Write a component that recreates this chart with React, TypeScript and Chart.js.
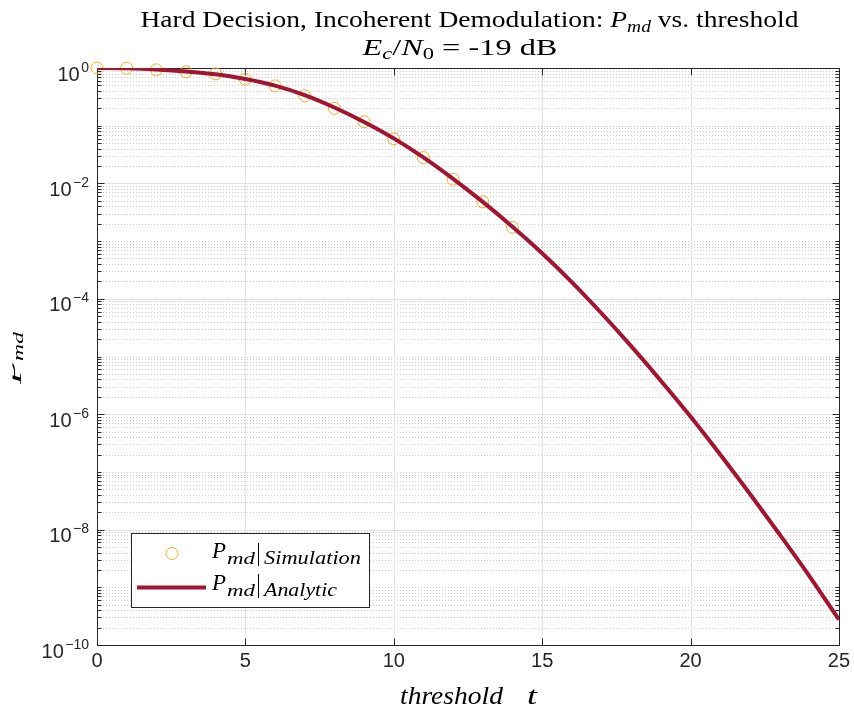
import React, { useEffect, useRef } from "react";
import { Chart, registerables } from "chart.js";

Chart.register(...registerables);

// ---------- data ----------
const thresholds = [0, 1, 2, 3, 4, 5, 6, 7, 8, 9, 10, 11, 12, 13, 14, 15, 16, 17, 18, 19, 20, 21, 22, 23, 24, 25];
const analyticPmd = [
  1.0, 0.986, 0.942, 0.871, 0.776, 0.646, 0.495, 0.339, 0.2065, 0.116, 0.0603, 0.0282, 0.012, 0.00479, 0.00178,
  6.17e-4, 1.95e-4, 5.62e-5, 1.51e-5, 3.8e-6, 9.1e-7, 2.0e-7, 4.17e-8, 8.3e-9, 1.58e-9, 2.75e-10,
];
const simThresholds = [0, 1, 2, 3, 4, 5, 6, 7, 8, 9, 10, 11, 12, 13, 14];
const simulatedPmd = [1.0, 0.99, 0.93, 0.86, 0.79, 0.64, 0.49, 0.33, 0.2, 0.117, 0.059, 0.028, 0.0118, 0.0048, 0.00174];
const xTickValues = [0, 5, 10, 15, 20, 25];
const yLabelExponents = [0, -2, -4, -6, -8, -10];
const yMinExp = -10;
const yMaxExp = 0;

const titleText1 = "Hard Decision, Incoherent Demodulation: ";
const titleText1b = " vs. threshold";
const titleText2 = " = -19 dB";
const xLabelWord = "threshold";
const xLabelVar = "t";
const legendSimSub = "Simulation";
const legendAnaSub = "Analytic";

// ---------- styles ----------
const AXIS = "#262626";
const SIM_COLOR = "#EDB120";
const ANA_COLOR = "#A2142F";
const SANS = '"Liberation Sans", Arial, Helvetica, sans-serif';
const SERIF = '"Liberation Serif", "Times New Roman", serif';

type Seg = { t: string; size: number; italic?: boolean; dy?: number };

function serifFont(size: number, italic?: boolean) {
  return `${italic ? "italic " : ""}${size}px ${SERIF}`;
}

function drawRich(
  ctx: CanvasRenderingContext2D,
  segs: Seg[],
  x: number,
  y: number,
  align: "left" | "center",
  targetWidth?: number
) {
  ctx.save();
  ctx.textBaseline = "alphabetic";
  ctx.textAlign = "left";
  const widths = segs.map((s) => {
    ctx.font = serifFont(s.size, s.italic);
    return ctx.measureText(s.t).width;
  });
  const total = widths.reduce((a, b) => a + b, 0);
  const sx = targetWidth ? targetWidth / total : 1;
  const startX = align === "center" ? x - (total * sx) / 2 : x;
  ctx.translate(startX, y);
  ctx.scale(sx, 1);
  let cx = 0;
  segs.forEach((s, i) => {
    ctx.font = serifFont(s.size, s.italic);
    ctx.fillText(s.t, cx, s.dy || 0);
    cx += widths[i];
  });
  ctx.restore();
}

const gridPlugin = {
  id: "matlabGrid",
  beforeDatasetsDraw(chart: any) {
    const { ctx, chartArea, scales } = chart;
    const { left, right, top, bottom } = chartArea;
    const x = scales.x;
    const y = scales.y;
    ctx.save();
    // minor dotted horizontal grid
    ctx.lineWidth = 1;
    ctx.strokeStyle = "rgba(0,0,0,0.2)";
    ctx.setLineDash([1, 2]);
    for (let k = yMinExp; k < yMaxExp; k++) {
      for (let m = 1; m <= 9; m++) {
        if (m === 1 && yLabelExponents.includes(k)) continue;
        const py = Math.round(y.getPixelForValue(m * Math.pow(10, k))) + 0.5;
        ctx.beginPath();
        ctx.moveTo(left, py);
        ctx.lineTo(right, py);
        ctx.stroke();
      }
    }
    // major solid grid
    ctx.setLineDash([]);
    ctx.strokeStyle = "#e2e2e2";
    yLabelExponents.forEach((e) => {
      const py = Math.round(y.getPixelForValue(Math.pow(10, e))) + 0.5;
      ctx.beginPath();
      ctx.moveTo(left, py);
      ctx.lineTo(right, py);
      ctx.stroke();
    });
    xTickValues.forEach((v) => {
      const px = Math.round(x.getPixelForValue(v)) + 0.5;
      ctx.beginPath();
      ctx.moveTo(px, top);
      ctx.lineTo(px, bottom);
      ctx.stroke();
    });
    // axes box
    ctx.strokeStyle = AXIS;
    ctx.lineWidth = 1;
    const L = Math.round(left) + 0.5;
    const R = Math.round(right) + 0.5;
    const T = Math.round(top) + 0.5;
    const B = Math.round(bottom) + 0.5;
    ctx.strokeRect(L, T, R - L, B - T);
    // x ticks
    xTickValues.forEach((v) => {
      const px = Math.round(x.getPixelForValue(v)) + 0.5;
      ctx.beginPath();
      ctx.moveTo(px, B);
      ctx.lineTo(px, B - 7);
      ctx.moveTo(px, T);
      ctx.lineTo(px, T + 7);
      ctx.stroke();
    });
    // y ticks
    for (let k = yMinExp; k <= yMaxExp; k++) {
      for (let m = 1; m <= 9; m++) {
        const v = m * Math.pow(10, k);
        if (v > Math.pow(10, yMaxExp) * 1.0001) break;
        const major = m === 1 && yLabelExponents.includes(k);
        const len = major ? 7 : 4;
        const py = Math.round(y.getPixelForValue(v)) + 0.5;
        ctx.beginPath();
        ctx.moveTo(L, py);
        ctx.lineTo(L + len, py);
        ctx.moveTo(R, py);
        ctx.lineTo(R - len, py);
        ctx.stroke();
      }
    }
    ctx.restore();
  },
  afterDraw(chart: any) {
    const { ctx, chartArea, scales } = chart;
    const y = scales.y;
    ctx.save();
    ctx.fillStyle = AXIS;
    // y tick labels 10^e
    yLabelExponents.forEach((e) => {
      const py = y.getPixelForValue(Math.pow(10, e));
      const sup = e === 0 ? "0" : "\u2212" + Math.abs(e);
      ctx.textAlign = "right";
      ctx.textBaseline = "alphabetic";
      ctx.font = `14px ${SANS}`;
      const sw = ctx.measureText(sup).width;
      ctx.fillText(sup, 89, py + 3.5);
      ctx.font = `20px ${SANS}`;
      ctx.fillText("10", 89 - sw - 1.5, py + 12.5);
    });

    ctx.fillStyle = "#000";
    // title
    const cx = (chartArea.left + chartArea.right) / 2;
    drawRich(
      ctx,
      [
        { t: titleText1, size: 24 },
        { t: "P", size: 24, italic: true },
        { t: "md", size: 17, italic: true, dy: 5 },
        { t: titleText1b, size: 24 },
      ],
      cx + 1.5,
      27,
      "center",
      658
    );
    drawRich(
      ctx,
      [
        { t: "E", size: 23, italic: true },
        { t: "c", size: 16, italic: true, dy: 4 },
        { t: "/", size: 23 },
        { t: "N", size: 23, italic: true },
        { t: "0", size: 16, dy: 4 },
        { t: titleText2, size: 23 },
      ],
      cx - 8,
      55,
      "center",
      195
    );

    // x label
    drawRich(ctx, [{ t: xLabelWord, size: 25, italic: true }], 400, 704, "left", 103);
    drawRich(ctx, [{ t: xLabelVar, size: 25, italic: true }], 527, 704, "left", 10);

    // y label (rotated, clipped at left like the reference)
    ctx.save();
    ctx.beginPath();
    ctx.rect(12.5, 0, 200, 713);
    ctx.clip();
    ctx.translate(21, 358);
    ctx.rotate(-Math.PI / 2);
    drawRich(
      ctx,
      [
        { t: "P", size: 24, italic: true },
        { t: "md", size: 15, italic: true, dy: 2 },
      ],
      0,
      0,
      "center",
      52
    );
    ctx.restore();

    // legend
    const bx = 131.5, by = 533.5, bw = 238, bh = 74;
    ctx.fillStyle = "#ffffff";
    ctx.fillRect(bx, by, bw, bh);
    ctx.strokeStyle = AXIS;
    ctx.lineWidth = 1;
    ctx.strokeRect(bx, by, bw, bh);
    // sim symbol
    ctx.strokeStyle = SIM_COLOR;
    ctx.beginPath();
    ctx.arc(172, 553.5, 6, 0, Math.PI * 2);
    ctx.stroke();
    // analytic symbol
    ctx.strokeStyle = ANA_COLOR;
    ctx.lineWidth = 4;
    ctx.beginPath();
    ctx.moveTo(137, 587.5);
    ctx.lineTo(206, 587.5);
    ctx.stroke();
    // legend texts
    ctx.fillStyle = "#000";
    const rows = [
      { base: 557.5, sub: legendSimSub, subW: 97, barTop: 543, barBot: 566 },
      { base: 589.5, sub: legendAnaSub, subW: 73, barTop: 574, barBot: 598 },
    ];
    rows.forEach((r) => {
      drawRich(ctx, [{ t: "P", size: 23, italic: true }], 212, r.base, "left", 14);
      drawRich(ctx, [{ t: "md", size: 17, italic: true }], 227, r.base + 6, "left", 28);
      ctx.strokeStyle = "#000";
      ctx.lineWidth = 1;
      ctx.beginPath();
      ctx.moveTo(258.5, r.barTop);
      ctx.lineTo(258.5, r.barBot);
      ctx.stroke();
      drawRich(ctx, [{ t: r.sub, size: 18, italic: true }], 264, r.base + 6, "left", r.subW);
    });
    ctx.restore();
  },
};

export default function App() {
  const canvasRef = useRef<HTMLCanvasElement | null>(null);

  useEffect(() => {
    const canvas = canvasRef.current;
    if (!canvas) return;
    const chart = new Chart(canvas, {
      type: "line",
      data: {
        datasets: [
          {
            type: "line",
            label: "Pmd | Simulation",
            data: simThresholds.map((t, i) => ({ x: t, y: simulatedPmd[i] })),
            showLine: false,
            pointStyle: "circle",
            pointRadius: 6,
            pointBorderWidth: 1,
            pointBorderColor: SIM_COLOR,
            pointBackgroundColor: "rgba(0,0,0,0)",
            borderColor: SIM_COLOR,
            clip: false,
            order: 2,
          } as any,
          {
            type: "line",
            label: "Pmd | Analytic",
            data: thresholds.map((t, i) => ({ x: t, y: analyticPmd[i] })),
            borderColor: ANA_COLOR,
            borderWidth: 4,
            pointRadius: 0,
            cubicInterpolationMode: "monotone",
            fill: false,
            order: 1,
          } as any,
        ],
      },
      options: {
        animation: false,
        responsive: false,
        devicePixelRatio: 1,
        layout: { padding: { top: 68, right: 14, left: 0, bottom: 0 } },
        plugins: {
          legend: { display: false },
          title: { display: false },
          tooltip: { enabled: false },
        },
        events: [],
        scales: {
          x: {
            type: "linear",
            min: 0,
            max: 25,
            grid: { display: false, drawTicks: false },
            border: { display: false },
            ticks: {
              autoSkip: false,
              maxRotation: 0,
              padding: 4,
              color: AXIS,
              font: { family: SANS, size: 20 },
            },
            afterBuildTicks: (scale: any) => {
              scale.ticks = xTickValues.map((v) => ({ value: v }));
            },
            afterFit: (scale: any) => {
              scale.height = 68;
            },
          },
          y: {
            type: "logarithmic",
            min: Math.pow(10, yMinExp),
            max: Math.pow(10, yMaxExp),
            grid: { display: false, drawTicks: false },
            border: { display: false },
            ticks: { display: false },
            afterFit: (scale: any) => {
              scale.width = 97;
            },
          },
        },
      } as any,
      plugins: [gridPlugin],
    });
    return () => chart.destroy();
  }, []);

  return (
    <div style={{ position: "absolute", left: 0, top: 0, width: 854, height: 713, background: "#fff" }}>
      <canvas ref={canvasRef} width={854} height={713} style={{ display: "block" }} />
    </div>
  );
}
